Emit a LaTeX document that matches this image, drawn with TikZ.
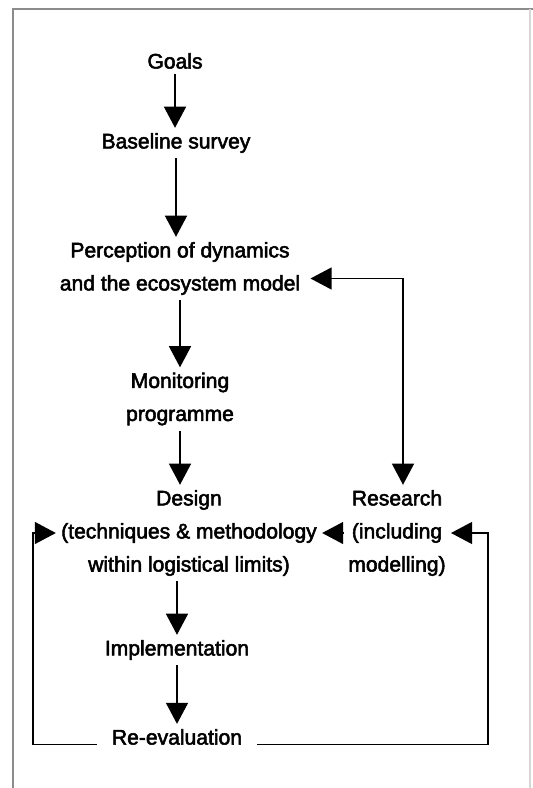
\documentclass[tikz,border=0pt]{standalone}
\usepackage{fontspec}
\newfontfamily\figfont{Liberation Sans}[FakeBold=2.5]
\usetikzlibrary{arrows.meta, positioning}
\definecolor{edgegray}{HTML}{8C8C8C}

\begin{document}
\begin{tikzpicture}[
  stage/.style={align=center, inner sep=0.1cm,
                font=\figfont\fontsize{12}{18.8}\selectfont},
  flow/.style={-{Triangle[length=12pt, width=12.5pt]}, line width=0.85pt},
  twoway/.style={{Triangle[length=12pt, width=12.5pt]}-{Triangle[length=12pt, width=12.5pt]},
                 line width=0.85pt}
  ]
  \useasboundingbox (0,0) rectangle (10.66,-15.76);
  % page frame
  \draw[edgegray, line width=1pt] (0.26,-15.76) -- (0.26,-0.18) -- (10.66,-0.18);
  \draw[edgegray!35, line width=0.6pt] (10.6,-0.18) -- (10.6,-15.76);

  % stages of the programme
  \node[stage] (goals) at (3.50,-1.22) {Goals};
  \node[stage] (baseline) at (3.52,-2.86) {Baseline survey};
  \node[stage] (perception) at (3.60,-5.37) {Perception of dynamics\\and the ecosystem model};
  \node[stage] (monitoring) at (3.60,-7.98) {Monitoring\\programme};
  \node[stage] (design) at (3.78,-10.66) {Design\\(techniques \& methodology\\within logistical limits)};
  \node[stage] (research) at (7.94,-10.66) {Research\\(including\\modelling)};
  \node[stage] (implementation) at (3.54,-13.00) {Implementation};
  \node[stage, inner xsep=0.3cm] (reeval) at (3.54,-14.74) {Re-evaluation};

  % main sequence
  \draw[flow] (goals.south) -- (goals.south |- baseline.north);
  \draw[flow] (baseline.south) -- (baseline.south |- perception.north);
  \draw[flow] (perception.south) -- (perception.south |- monitoring.north);
  \draw[flow] (monitoring.south) -- (monitoring.south |- design.north);
  \draw[flow] (implementation.north |- design.south) -- (implementation.north);
  \draw[flow] (implementation.south) -- (implementation.south |- reeval.north);

  % research links
  \draw[twoway] ([xshift=0.1cm, yshift=-0.2cm]perception.east) -| ([xshift=0.12cm]research.north);
  \draw[flow] (research.west) -- (design.east);

  % feedback loops
  \coordinate (lp) at (0.66,0);
  \coordinate (rp) at (9.76,0);
  \draw[flow] (reeval.base west) -| (lp |- design) -- (design.west);
  \draw[flow] (reeval.base east) -| (rp |- research) -- (research.east);
\end{tikzpicture}
\end{document}
